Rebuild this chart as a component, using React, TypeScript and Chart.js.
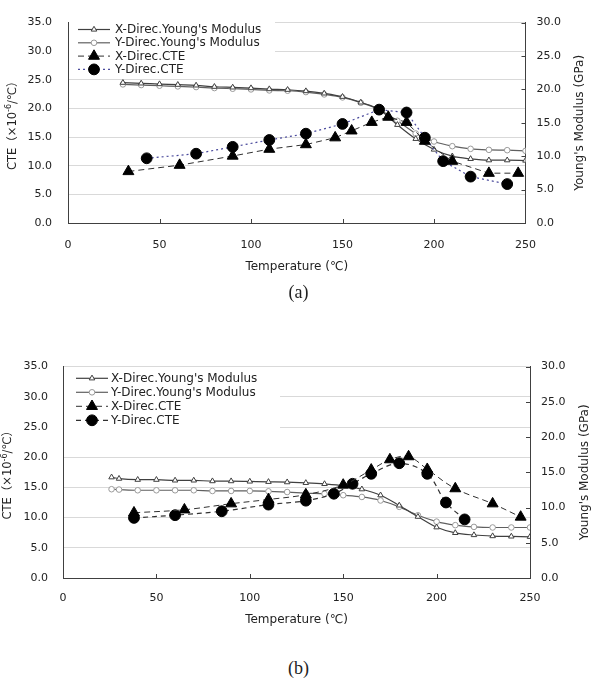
import React, { useEffect, useRef } from 'react';
import { Chart, registerables } from 'chart.js';

Chart.register(...registerables);

const FONT = '"DejaVu Sans", "Noto Sans CJK JP", sans-serif';
const INK = '#404040';
const TEXT = '#222222';
const WIDTH = 597;

// ---- Panel (a) ----
const youngTempsA = [30, 40, 50, 60, 70, 80, 90, 100, 110, 120, 130, 140, 150, 160, 170, 180, 190, 200, 210, 220, 230, 240, 250];
const xYoungA = [21.0, 20.9, 20.8, 20.7, 20.6, 20.4, 20.3, 20.2, 20.05, 19.95, 19.75, 19.4, 18.9, 18.05, 17.0, 14.7, 12.6, 11.0, 10.0, 9.6, 9.4, 9.4, 9.35];
const yYoungA = [20.75, 20.65, 20.55, 20.45, 20.35, 20.2, 20.1, 20.0, 19.85, 19.8, 19.6, 19.25, 18.8, 18.0, 17.0, 15.3, 13.4, 12.2, 11.5, 11.1, 10.95, 10.9, 10.8];
const xCteTempsA = [33, 61, 90, 110, 130, 146, 155, 166, 175, 185, 195, 210, 230, 246];
const xCteA = [9.0, 10.1, 11.7, 12.9, 13.7, 14.9, 16.1, 17.6, 18.5, 17.6, 14.3, 10.8, 8.7, 8.7];
const yCteTempsA = [43, 70, 90, 110, 130, 150, 170, 185, 195, 205, 220, 240];
const yCteA = [11.3, 12.1, 13.3, 14.5, 15.6, 17.3, 19.8, 19.3, 14.9, 10.8, 8.1, 6.8];

// ---- Panel (b) ----
const youngTempsB = [26, 30, 40, 50, 60, 70, 80, 90, 100, 110, 120, 130, 140, 150, 160, 170, 180, 190, 200, 210, 220, 230, 240, 250];
const xYoungB = [14.3, 14.1, 13.95, 13.95, 13.85, 13.85, 13.75, 13.75, 13.7, 13.65, 13.6, 13.5, 13.35, 13.1, 12.6, 11.75, 10.3, 8.7, 7.2, 6.4, 6.1, 5.95, 5.9, 5.85];
const yYoungB = [12.6, 12.55, 12.45, 12.45, 12.45, 12.45, 12.35, 12.35, 12.35, 12.3, 12.2, 12.05, 11.95, 11.75, 11.5, 11.0, 10.1, 8.9, 8.0, 7.5, 7.25, 7.17, 7.17, 7.17];
const xCteTempsB = [38, 65, 90, 110, 130, 150, 165, 175, 185, 195, 210, 230, 245];
const xCteB = [10.8, 11.3, 12.3, 13.0, 13.8, 15.4, 17.9, 19.6, 20.1, 18.0, 14.8, 12.3, 10.1];
const yCteTempsB = [38, 60, 85, 110, 130, 145, 155, 165, 180, 195, 205, 215];
const yCteB = [9.95, 10.4, 11.05, 12.15, 12.8, 13.95, 15.6, 17.25, 19.0, 17.25, 12.5, 9.7];

// ---- Axes and labels ----
const tempTicks = [0, 50, 100, 150, 200, 250];
const cteTicks = [0, 5, 10, 15, 20, 25, 30, 35];
const modulusTicks = [0, 5, 10, 15, 20, 25, 30];
const seriesLabels = ["X-Direc.Young's Modulus", "Y-Direc.Young's Modulus", 'X-Direc.CTE', 'Y-Direc.CTE'];
const xAxisTitle = 'Temperature (℃)';
const rightAxisTitle = "Young's Modulus (GPa)";
const captions = ['(a)', '(b)'];

type Spec = {
  canvasTop: number;
  height: number;
  top: number;
  bottom: number;
  left: number;
  right: number;
  xPad: number;
  leftPad: number;
  rightPad: number;
  leftTitleX: number;
  rightTitleX: number;
  xTitleY: number;
  legendY: number;
  legendStep: number;
  legendLine: [number, number];
  legendTextX: number;
  legendBox: [number, number, number, number];
  youngTemps: number[];
  xYoung: number[];
  yYoung: number[];
  xCteTemps: number[];
  xCte: number[];
  yCteTemps: number[];
  yCte: number[];
  yCteColor: string;
  yCteDash: number[];
  cteTension: number;
};

const specA: Spec = {
  canvasTop: 0,
  height: 285,
  top: 17,
  bottom: 223,
  left: 68,
  right: 525.5,
  xPad: 16,
  leftPad: 16,
  rightPad: 11,
  leftTitleX: 13,
  rightTitleX: 580,
  xTitleY: 267,
  legendY: 29.5,
  legendStep: 13.3,
  legendLine: [78, 110],
  legendTextX: 115,
  legendBox: [69, 19, 206, 55],
  youngTemps: youngTempsA,
  xYoung: xYoungA,
  yYoung: yYoungA,
  xCteTemps: xCteTempsA,
  xCte: xCteA,
  yCteTemps: yCteTempsA,
  yCte: yCteA,
  yCteColor: '#4a4a9c',
  yCteDash: [2, 3],
  cteTension: 0,
};

const specB: Spec = {
  canvasTop: 345,
  height: 290,
  top: 21,
  bottom: 233,
  left: 63,
  right: 530,
  xPad: 14,
  leftPad: 15,
  rightPad: 11,
  leftTitleX: 8.5,
  rightTitleX: 585,
  xTitleY: 275,
  legendY: 33.3,
  legendStep: 14,
  legendLine: [76, 108],
  legendTextX: 111,
  legendBox: [64, 22, 216, 62],
  youngTemps: youngTempsB,
  xYoung: xYoungB,
  yYoung: yYoungB,
  xCteTemps: xCteTempsB,
  xCte: xCteB,
  yCteTemps: yCteTempsB,
  yCte: yCteB,
  yCteColor: '#303030',
  yCteDash: [5, 4],
  cteTension: 0.35,
};

const pts = (xs: number[], ys: number[]) => xs.map((x, i) => ({ x, y: ys[i] }));

type Mark = { style: 'triangle' | 'circle'; r: number; fill: string; stroke: string; lw: number };

function drawMark(ctx: CanvasRenderingContext2D, m: Mark, x: number, y: number) {
  ctx.save();
  ctx.beginPath();
  if (m.style === 'triangle') {
    let rad = 0;
    ctx.moveTo(x + Math.sin(rad) * m.r, y - Math.cos(rad) * m.r);
    rad += (2 * Math.PI) / 3;
    ctx.lineTo(x + Math.sin(rad) * m.r, y - Math.cos(rad) * m.r);
    rad += (2 * Math.PI) / 3;
    ctx.lineTo(x + Math.sin(rad) * m.r, y - Math.cos(rad) * m.r);
    ctx.closePath();
  } else {
    ctx.arc(x, y, m.r, 0, Math.PI * 2);
  }
  ctx.fillStyle = m.fill;
  ctx.fill();
  ctx.lineWidth = m.lw;
  ctx.strokeStyle = m.stroke;
  ctx.stroke();
  ctx.restore();
}

const xYoungMark: Mark = { style: 'triangle', r: 3.2, fill: '#ffffff', stroke: '#404040', lw: 1 };
const yYoungMark: Mark = { style: 'circle', r: 2.8, fill: '#ffffff', stroke: '#9a9a9a', lw: 1 };
const xCteMark: Mark = { style: 'triangle', r: 6.3, fill: '#000000', stroke: '#000000', lw: 1 };
const yCteMark: Mark = { style: 'circle', r: 5.4, fill: '#000000', stroke: '#000000', lw: 1 };

function buildConfig(spec: Spec): any {
  const tickFont = { family: FONT, size: 11 };
  const lineStyles = [
    { color: '#404040', dash: [] as number[], width: 1.2, mark: xYoungMark },
    { color: '#606060', dash: [] as number[], width: 1.2, mark: yYoungMark },
    { color: '#303030', dash: [6, 4], width: 1, mark: xCteMark },
    { color: spec.yCteColor, dash: spec.yCteDash, width: 1.2, mark: yCteMark },
  ];

  const decorations = {
    id: 'decorations',
    afterDatasetsDraw(chart: any) {
      const ctx: CanvasRenderingContext2D = chart.ctx;
      const area = chart.chartArea;
      const xs = chart.scales.x;
      const ym = chart.scales.yMod;

      // inward tick marks on the bottom and right axes
      ctx.save();
      ctx.strokeStyle = INK;
      ctx.lineWidth = 1;
      ctx.beginPath();
      tempTicks.slice(1, -1).forEach((v) => {
        const px = Math.round(xs.getPixelForValue(v)) + 0.5;
        ctx.moveTo(px, area.bottom);
        ctx.lineTo(px, area.bottom - 4);
      });
      modulusTicks.slice(1).forEach((v) => {
        const py = Math.round(ym.getPixelForValue(v)) + 0.5;
        ctx.moveTo(area.right, py);
        ctx.lineTo(area.right - 4, py);
      });
      ctx.stroke();
      ctx.restore();

      // legend
      const [bx, by, bw, bh] = spec.legendBox;
      ctx.save();
      ctx.fillStyle = '#ffffff';
      ctx.fillRect(bx, by, bw, bh);
      seriesLabels.forEach((label, i) => {
        const st = lineStyles[i];
        const y = spec.legendY + i * spec.legendStep;
        const [x0, x1] = spec.legendLine;
        ctx.save();
        ctx.strokeStyle = st.color;
        ctx.lineWidth = st.width;
        ctx.setLineDash(st.dash);
        ctx.beginPath();
        ctx.moveTo(x0, y);
        ctx.lineTo(x1, y);
        ctx.stroke();
        ctx.restore();
        drawMark(ctx, st.mark, (x0 + x1) / 2, y);
        ctx.fillStyle = TEXT;
        ctx.font = `12px ${FONT}`;
        ctx.textAlign = 'left';
        ctx.textBaseline = 'middle';
        ctx.fillText(label, spec.legendTextX, y + 0.5);
      });
      ctx.restore();

      // axis titles
      const cy = (area.top + area.bottom) / 2;
      ctx.save();
      ctx.fillStyle = TEXT;
      ctx.textBaseline = 'middle';
      ctx.textAlign = 'center';
      ctx.font = `12px ${FONT}`;
      ctx.fillText(xAxisTitle, (area.left + area.right) / 2, spec.xTitleY);

      ctx.save();
      ctx.translate(spec.rightTitleX, cy);
      ctx.rotate(-Math.PI / 2);
      ctx.fillText(rightAxisTitle, 0, 0);
      ctx.restore();

      ctx.save();
      ctx.translate(spec.leftTitleX, cy);
      ctx.rotate(-Math.PI / 2);
      ctx.textAlign = 'left';
      const head = 'CTE（×10';
      const sup = '-6';
      const tail = '/℃）';
      ctx.font = `11.5px ${FONT}`;
      const w1 = ctx.measureText(head).width;
      const w3 = ctx.measureText(tail).width;
      ctx.font = `8px ${FONT}`;
      const w2 = ctx.measureText(sup).width;
      let cx = -(w1 + w2 + w3) / 2;
      ctx.font = `11.5px ${FONT}`;
      ctx.fillText(head, cx, 0);
      cx += w1;
      ctx.font = `8px ${FONT}`;
      ctx.fillText(sup, cx, -4);
      cx += w2;
      ctx.font = `11.5px ${FONT}`;
      ctx.fillText(tail, cx, 0);
      ctx.restore();
      ctx.restore();
    },
  };

  return {
    type: 'line',
    data: {
      datasets: [
        {
          label: seriesLabels[2],
          data: pts(spec.xCteTemps, spec.xCte),
          yAxisID: 'yCte',
          borderColor: lineStyles[2].color,
          borderWidth: lineStyles[2].width,
          borderDash: lineStyles[2].dash,
          pointStyle: 'triangle',
          pointRadius: xCteMark.r,
          pointBackgroundColor: xCteMark.fill,
          pointBorderColor: xCteMark.stroke,
          pointBorderWidth: 1,
          tension: spec.cteTension,
          fill: false,
        },
        {
          label: seriesLabels[3],
          data: pts(spec.yCteTemps, spec.yCte),
          yAxisID: 'yCte',
          borderColor: lineStyles[3].color,
          borderWidth: lineStyles[3].width,
          borderDash: lineStyles[3].dash,
          pointStyle: 'circle',
          pointRadius: yCteMark.r,
          pointBackgroundColor: yCteMark.fill,
          pointBorderColor: yCteMark.stroke,
          pointBorderWidth: 1,
          tension: spec.cteTension,
          fill: false,
        },
        {
          label: seriesLabels[0],
          data: pts(spec.youngTemps, spec.xYoung),
          yAxisID: 'yMod',
          borderColor: lineStyles[0].color,
          borderWidth: lineStyles[0].width,
          pointStyle: 'triangle',
          pointRadius: xYoungMark.r,
          pointBackgroundColor: xYoungMark.fill,
          pointBorderColor: xYoungMark.stroke,
          pointBorderWidth: 1,
          cubicInterpolationMode: 'monotone',
          fill: false,
        },
        {
          label: seriesLabels[1],
          data: pts(spec.youngTemps, spec.yYoung),
          yAxisID: 'yMod',
          borderColor: lineStyles[1].color,
          borderWidth: lineStyles[1].width,
          pointStyle: 'circle',
          pointRadius: yYoungMark.r,
          pointBackgroundColor: yYoungMark.fill,
          pointBorderColor: yYoungMark.stroke,
          pointBorderWidth: 1,
          cubicInterpolationMode: 'monotone',
          fill: false,
        },
      ],
    },
    options: {
      responsive: false,
      animation: false,
      events: [],
      layout: { padding: { top: spec.top, left: 0, right: 0, bottom: 0 } },
      plugins: { legend: { display: false }, tooltip: { enabled: false }, title: { display: false } },
      scales: {
        x: {
          type: 'linear',
          min: 0,
          max: 250,
          afterBuildTicks: (s: any) => {
            s.ticks = tempTicks.map((v) => ({ value: v }));
          },
          afterFit: (s: any) => {
            s.height = spec.height - spec.bottom;
          },
          ticks: {
            font: tickFont,
            color: TEXT,
            padding: spec.xPad,
            maxRotation: 0,
            autoSkip: false,
            callback: (v: any) => String(v),
          },
          grid: { display: true, drawOnChartArea: false, drawTicks: false },
          border: { display: true, color: INK, width: 1 },
        },
        yCte: {
          type: 'linear',
          position: 'left',
          min: 0,
          max: 35,
          afterBuildTicks: (s: any) => {
            s.ticks = cteTicks.map((v) => ({ value: v }));
          },
          afterFit: (s: any) => {
            s.width = spec.left;
          },
          ticks: {
            font: tickFont,
            color: TEXT,
            padding: spec.leftPad,
            callback: (v: any) => Number(v).toFixed(1),
          },
          grid: {
            color: (c: any) => (c.tick && c.tick.value === 0 ? 'rgba(0,0,0,0)' : '#d9d9d9'),
            drawTicks: false,
            lineWidth: 1,
          },
          border: { display: true, color: INK, width: 1 },
        },
        yMod: {
          type: 'linear',
          position: 'right',
          min: 0,
          max: 30,
          afterBuildTicks: (s: any) => {
            s.ticks = modulusTicks.map((v) => ({ value: v }));
          },
          afterFit: (s: any) => {
            s.width = WIDTH - spec.right;
          },
          ticks: {
            font: tickFont,
            color: TEXT,
            padding: spec.rightPad,
            callback: (v: any) => Number(v).toFixed(1),
          },
          grid: { display: true, drawOnChartArea: false, drawTicks: false },
          border: { display: true, color: INK, width: 1 },
        },
      },
    },
    plugins: [decorations],
  };
}

function Panel({ spec }: { spec: Spec }) {
  const ref = useRef<HTMLCanvasElement>(null);
  useEffect(() => {
    const chart = new Chart(ref.current as HTMLCanvasElement, buildConfig(spec));
    return () => chart.destroy();
  }, [spec]);
  return (
    <canvas
      ref={ref}
      width={WIDTH}
      height={spec.height}
      style={{ position: 'absolute', left: 0, top: spec.canvasTop, width: WIDTH, height: spec.height }}
    />
  );
}

const captionStyle = (top: number): React.CSSProperties => ({
  position: 'absolute',
  left: 0,
  top,
  width: WIDTH,
  height: 22,
  lineHeight: '22px',
  textAlign: 'center',
  fontFamily: '"Liberation Serif", "DejaVu Serif", serif',
  fontSize: 18,
  color: TEXT,
});

export default function App() {
  return (
    <div style={{ position: 'fixed', left: 0, top: 0, width: WIDTH, height: 692, background: '#ffffff', overflow: 'hidden' }}>
      <Panel spec={specA} />
      <div style={captionStyle(281)}>{captions[0]}</div>
      <Panel spec={specB} />
      <div style={captionStyle(657)}>{captions[1]}</div>
    </div>
  );
}
